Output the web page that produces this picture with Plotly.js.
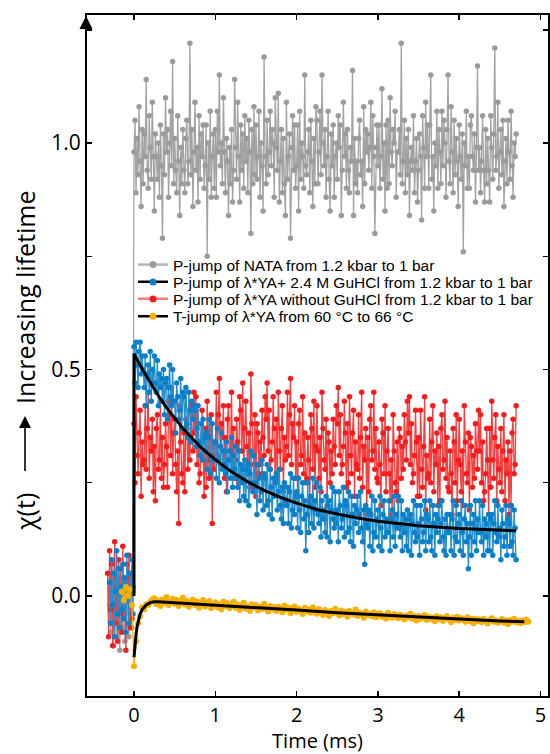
<!DOCTYPE html>
<html><head><meta charset="utf-8">
<script src="https://cdn.plot.ly/plotly-3.0.1.min.js"></script>
<style>html,body{margin:0;padding:0;background:#fff}#chart{width:550px;height:754px}</style>
</head><body><div id="chart"></div>
<script>
// sampling intervals of the recorded traces (ms)
const P_JUMP_DT = 0.0125;
const T_JUMP_DT = 0.025;

// ---- P-jump of NATA (gray) ----
const nataStart = -0.3;
const nataBefore = [-.02,-.08,.01,-.05,-.11,.03,-.04,-.09,.0,-.06,-.12,.02,-.03,-.07,.04,-.1,-.01,-.06,.02,-.09,-.04,.0,-.07,.01];
const nataAfter = [
.98,1.05,.89,1.01,.93,1.08,.96,.86,1.03,.91,
1.02,.97,1.14,.94,.9,1.06,.99,.92,1.09,.97,
.85,1.02,.97,.92,1.0,.88,1.04,.95,.79,1.02,
.93,1.1,.98,1.03,.88,1.0,1.07,.95,1.18,.91,
1.01,.94,.89,1.06,.96,.84,.99,.91,1.03,.94,
.89,1.01,1.05,.91,.96,1.22,.93,1.03,.86,.98,
1.09,.94,.99,.87,1.06,.92,1.02,.97,1.04,.9,
.95,1.04,.75,1.0,.92,1.07,.88,.97,1.02,.9,
1.03,.88,1.07,.98,1.15,.95,1.0,.91,1.1,.98,
.89,1.01,.96,.84,.99,.91,1.03,.87,.94,1.14,
.99,.92,1.09,.97,.87,1.04,.94,1.02,.9,1.06,
.96,1.01,.89,1.05,.98,.8,1.03,.91,1.08,.93,
1.04,.92,.97,1.07,.88,1.0,.95,.85,1.19,.97,
.91,1.05,.93,.98,1.07,.95,1.03,1.0,.88,1.1,
.99,.94,1.11,.87,.96,1.03,.89,1.01,.91,.84,
1.09,.92,.97,1.02,.79,.99,1.06,.94,1.04,.9,
.95,1.04,.85,1.07,.92,1.0,.97,.9,1.15,.95,
.93,.98,1.03,.89,1.05,.96,.86,1.01,.91,1.08,
1.05,.91,.98,1.07,.93,1.15,1.0,.95,1.03,.88,
.97,1.07,.92,.85,1.02,.95,1.04,.88,.97,1.0,
.92,1.06,.99,1.04,.84,.94,1.09,.97,1.02,.9,
1.03,.94,.89,.99,.96,1.16,.84,1.01,.91,.96,
.89,1.01,1.05,.93,.96,.86,1.08,.91,1.03,.98,
1.02,.94,.99,1.09,.9,1.06,.97,.8,.99,1.04,
.95,1.04,.9,.97,1.12,.92,1.0,.85,1.04,.9,
1.05,.91,1.1,.98,.95,1.03,1.0,1.07,.88,.98,
.98,1.03,.93,1.22,.91,.96,1.05,.89,1.01,.93,
1.03,.84,.96,.99,.94,1.06,.89,.96,1.01,.87,
.94,1.02,.97,.83,1.06,.99,.9,1.09,.97,1.04,
.9,1.04,1.15,.92,.97,.85,1.0,.95,1.07,.9,
1.03,.98,.91,1.07,.95,1.05,1.0,.88,1.03,1.15,
.96,.91,1.08,.98,.89,1.05,.93,1.01,.96,.86,
1.04,.97,.92,1.02,.76,1.0,.95,1.07,.9,.97,
.9,1.04,1.06,.97,.94,1.02,.87,.99,1.17,.94,
.99,.89,.96,1.06,.94,.87,1.03,.91,1.01,.94,
.87,1.06,.99,.92,1.02,1.21,.94,.97,1.09,.9,
.98,1.03,.93,1.05,.86,.96,1.01,.91,1.05,.98,
.92,1.07,.95,.88,1.0,.97,1.02];

// ---- P-jump of λ*YA + 2.4 M GuHCl (blue) ----
const guStart = -0.3;
const guBefore = [.03,-.06,.08,-.02,.05,-.09,.01,.1,-.04,.06,-.07,.02,-.03,.07,-.05,.04,-.08,.09,.0,-.06,.05,-.02,.08,-.04];
const guAfter = [
.55,.47,.56,.51,.46,.54,.56,.49,.53,.5,
.46,.53,.42,.49,.51,.45,.54,.43,.5,.47,
.53,.47,.45,.52,.42,.49,.46,.48,.43,.5,
.4,.47,.48,.39,.46,.51,.44,.42,.5,.43,
.43,.36,.47,.44,.39,.41,.48,.37,.45,.44,
.37,.46,.38,.35,.45,.41,.34,.43,.39,.42,
.41,.33,.37,.42,.34,.31,.38,.3,.39,.35,
.32,.36,.28,.35,.39,.27,.31,.38,.3,.34,
.34,.26,.37,.3,.25,.33,.36,.28,.32,.29,
.27,.34,.23,.3,.32,.26,.35,.24,.31,.28,
.33,.26,.24,.32,.21,.29,.25,.28,.22,.3,
.21,.28,.29,.2,.27,.32,.25,.23,.31,.24,
.25,.18,.29,.26,.21,.23,.3,.19,.27,.26,
.2,.29,.21,.18,.28,.24,.17,.26,.22,.25,
.27,.19,.23,.28,.2,.17,.24,.16,.25,.21,
.2,.24,.16,.23,.27,.15,.19,.26,.18,.22,
.23,.15,.26,.19,.14,.22,.25,.17,.21,.1,
.18,.25,.14,.2,.22,.16,.26,.15,.21,.19,
.25,.18,.16,.24,.13,.21,.17,.19,.14,.22,
.13,.2,.21,.12,.19,.24,.17,.15,.23,.16,
.19,.12,.23,.2,.15,.17,.24,.13,.21,.2,
.14,.23,.15,.12,.22,.18,.11,.2,.16,.19,
.22,.14,.18,.23,.15,.12,.19,.07,.2,.16,
.15,.19,.11,.18,.22,.1,.14,.21,.13,.17,
.19,.11,.22,.15,.1,.18,.21,.13,.17,.14,
.14,.21,.1,.17,.19,.13,.22,.11,.18,.15,
.22,.15,.13,.21,.1,.18,.14,.17,.11,.19,
.1,.17,.18,.09,.16,.21,.14,.12,.2,.13,
.16,.09,.2,.17,.12,.14,.21,.1,.18,.17,
.12,.21,.13,.1,.2,.16,.09,.18,.14,.17,
.2,.12,.16,.21,.13,.1,.17,.09,.18,.14,
.14,.18,.1,.17,.21,.09,.13,.2,.12,.16,
.18,.1,.21,.14,.09,.17,.2,.12,.16,.06,
.13,.2,.09,.16,.18,.12,.21,.1,.17,.14,
.21,.14,.12,.2,.09,.17,.13,.16,.1,.18,
.1,.17,.18,.09,.16,.21,.14,.12,.2,.13,
.15,.08,.19,.16,.11,.13,.2,.09,.17,.16,
.11,.2,.12,.09,.19,.15,.08];

// ---- P-jump of λ*YA without GuHCl (red) ----
const noGuStart = -0.325;
const noGuBefore = [.05,-.09,.1,-.03,.07,-.11,.02,.12,-.06,.04,-.1,.08,-.02,.06,-.08,.11,-.04,.03,-.12,.07,-.01,.09,-.07,.04,-.05,.02];
const noGuAfter = [
.38,.25,.44,.31,.27,.36,.41,.22,.34,.29,
.3,.42,.28,.37,.45,.26,.35,.32,.39,.23,
.33,.21,.37,.4,.28,.3,.43,.26,.35,.24,
.29,.38,.33,.24,.43,.4,.31,.46,.27,.36,
.39,.29,.23,.32,.16,.42,.34,.27,.25,.36,
.23,.39,.37,.28,.35,.3,.42,.36,.32,.45,
.36,.44,.29,.38,.25,.27,.31,.41,.34,.22,
.37,.24,.43,.3,.26,.35,.4,.16,.33,.28,
.33,.45,.31,.4,.48,.29,.38,.35,.42,.26,
.35,.23,.39,.42,.3,.32,.45,.28,.37,.26,
.3,.39,.34,.25,.44,.41,.32,.47,.28,.37,
.43,.33,.27,.36,.24,.49,.38,.31,.29,.4,
.22,.38,.36,.27,.34,.29,.41,.35,.31,.44,
.39,.47,.32,.41,.28,.3,.34,.44,.37,.25,
.39,.26,.45,.32,.28,.37,.42,.23,.35,.3,
.33,.45,.31,.4,.48,.29,.38,.35,.42,.26,
.34,.22,.38,.41,.29,.31,.44,.27,.36,.25,
.26,.35,.3,.21,.4,.37,.28,.43,.24,.33,
.42,.32,.26,.35,.23,.45,.37,.3,.28,.39,
.2,.36,.34,.25,.32,.27,.39,.33,.29,.42,
.38,.46,.31,.4,.27,.29,.33,.43,.36,.24,
.38,.25,.44,.31,.27,.36,.41,.22,.34,.29,
.28,.4,.26,.35,.45,.24,.33,.3,.37,.18,
.35,.23,.39,.42,.3,.32,.45,.28,.37,.26,
.25,.34,.29,.2,.39,.36,.27,.42,.23,.32,
.37,.27,.21,.3,.18,.4,.32,.25,.23,.34,
.21,.37,.35,.26,.33,.28,.4,.34,.3,.43,
.36,.44,.29,.38,.25,.27,.31,.41,.34,.22,
.35,.22,.41,.28,.24,.33,.44,.19,.31,.26,
.27,.39,.25,.34,.42,.23,.32,.29,.36,.2,
.33,.21,.37,.4,.28,.3,.43,.26,.35,.24,
.23,.32,.27,.18,.37,.34,.25,.4,.21,.3,
.39,.29,.23,.32,.2,.42,.34,.27,.25,.36,
.19,.35,.33,.24,.31,.26,.38,.32,.28,.41,
.32,.4,.25,.34,.21,.23,.27,.37,.3,.18,
.37,.24,.43,.3,.26,.35,.4,.21,.33,.28,
.25,.37,.23,.32,.4,.21,.3,.27,.34,.18,
.32,.2,.36,.39,.27,.29,.42];

// ---- T-jump of λ*YA 60 -> 66 °C (orange) ----
const tjStart = -0.15;
const tjBefore = [.01,-.01,.02,.0,.015,-.02];
const tjAfter = [
-.155,-.1,-.06,-.045,-.025,-.03,-.018,-.02,-.012,-.008,
-.005,-.018,-.01,-.022,-.008,-.015,-.002,-.02,-.012,-.006,
-.017,-.009,-.022,-.013,-.004,-.019,-.011,-.024,-.014,-.008,
-.02,-.012,-.026,-.015,-.009,-.023,-.017,-.011,-.027,-.019,
-.014,-.025,-.018,-.03,-.012,-.022,-.016,-.027,-.02,-.013,
-.026,-.019,-.031,-.021,-.015,-.028,-.023,-.033,-.018,-.025,
-.02,-.032,-.024,-.029,-.017,-.027,-.034,-.022,-.03,-.025,
-.033,-.024,-.028,-.036,-.021,-.03,-.026,-.038,-.027,-.023,
-.035,-.028,-.032,-.04,-.026,-.034,-.03,-.037,-.025,-.033,
-.039,-.029,-.036,-.042,-.031,-.035,-.044,-.033,-.038,-.028,
-.036,-.043,-.032,-.04,-.035,-.046,-.033,-.038,-.041,-.03,
-.044,-.037,-.04,-.048,-.034,-.042,-.039,-.045,-.036,-.047,
-.041,-.038,-.046,-.043,-.05,-.037,-.044,-.048,-.04,-.045,
-.049,-.041,-.046,-.052,-.043,-.047,-.039,-.05,-.045,-.054,
-.044,-.05,-.047,-.042,-.053,-.046,-.051,-.048,-.056,-.045,
-.05,-.047,-.055,-.049,-.044,-.052,-.058,-.048,-.053,-.046,
-.054,-.049,-.052,-.057,-.047,-.055,-.05,-.06,-.051,-.056,
-.052,-.058,-.05,-.055,-.061,-.053,-.049,-.057,-.054,-.059,
-.056,-.051,-.059,-.054,-.062,-.053,-.057,-.05,-.058,-.055,
-.06,-.054,-.058,-.052,-.057];

// ---- fitted curves (black) ----
const guFitT = [0,0,0.1,0.2,0.3,0.4,0.5,0.6,0.7,0.8,0.9,1.0,1.2,1.4,1.6,1.8,2.0,2.25,2.5,2.75,3.0,3.5,4.0,4.5,4.7];
const guFitY = [0.0,0.535,0.501,0.470,0.442,0.416,0.392,0.370,0.351,0.332,0.316,0.301,0.274,0.252,0.233,0.218,0.205,0.191,0.181,0.172,0.165,0.155,0.149,0.145,0.144];
const tjFitT = [0,0.0125,0.025,0.0375,0.05,0.075,0.1,0.15,0.2,0.25,0.3,0.5,1.0,1.5,2.0,2.5,3.0,3.5,4.0,4.5,4.8];
const tjFitY = [-0.135,-0.105,-0.085,-0.068,-0.056,-0.04,-0.03,-0.02,-0.015,-0.013,-0.013,-0.015,-0.021,-0.026,-0.031,-0.037,-0.042,-0.047,-0.051,-0.055,-0.057];

const legendNames = [
  'P-jump of NATA from 1.2 kbar to 1 bar',
  'P-jump of \u03bb*YA+ 2.4 M GuHCl from 1.2 kbar to 1 bar',
  'P-jump of \u03bb*YA without GuHCl from 1.2 kbar to 1 bar',
  'T-jump of \u03bb*YA from 60 \u00b0C to 66 \u00b0C'
];

function times(start, n, dt){
  const t = [];
  for (let i = 0; i < n; i++) t.push(+(start + i*dt).toFixed(5));
  return t;
}
function series(start, before, after, dt){
  return {x: times(start, before.length, dt).concat(times(0, after.length, dt)), y: before.concat(after)};
}

const GRAY='#9b9b9b', BLUE='#0b80c8', RED='#f41c1c', ORANGE='#fbb000';
const nata = series(nataStart, nataBefore, nataAfter, P_JUMP_DT);
const gu = series(guStart, guBefore, guAfter, P_JUMP_DT);
const noGu = series(noGuStart, noGuBefore, noGuAfter, P_JUMP_DT);
const tj = series(tjStart, tjBefore, tjAfter, T_JUMP_DT);

function dataTrace(s, mc, lc, ms){
  return {type:'scatter', mode:'lines+markers', x:s.x, y:s.y, showlegend:false,
    line:{color:lc, width:1.3}, marker:{color:mc, size:ms, line:{width:0}}, hoverinfo:'skip'};
}
function legendTrace(name, lc, mc, leg){
  return {type:'scatter', mode:'lines+markers', x:[null], y:[null], name:name, legend:leg, showlegend:true,
    line:{color:lc, width:2.5}, marker:{color:mc, size:7, line:{width:0}}};
}

const traces = [
  dataTrace(nata, GRAY, '#a3a3a3', 5.5),
  dataTrace(noGu, RED, '#f4403f', 5.5),
  dataTrace(gu, BLUE, '#2590d0', 5.5),
  dataTrace(tj, ORANGE, ORANGE, 6),
  {type:'scatter', mode:'lines', x:guFitT, y:guFitY, showlegend:false, line:{color:'#000', width:3}},
  {type:'scatter', mode:'lines', x:tjFitT, y:tjFitY, showlegend:false, line:{color:'#000', width:3}},
  legendTrace(legendNames[0], '#b4b4b4', GRAY, 'legend'),
  legendTrace(legendNames[1], '#000', BLUE, 'legend2'),
  legendTrace(legendNames[2], '#f77b7b', RED, 'legend3'),
  legendTrace(legendNames[3], '#000', ORANGE, 'legend4')
];

const L = 87, R = 2, T = 15, B = 58;
const W = 550 - L - R, H = 754 - T - B;
const px = v => (v - L) / W;
const py = v => (754 - B - v) / H;

function leg(yc){
  return {x: px(133), y: py(yc), xanchor:'left', yanchor:'middle', bgcolor:'rgba(0,0,0,0)',
    borderwidth:0, font:{family:'Liberation Sans, Arial, sans-serif', size:15.5, color:'#000'},
    itemwidth:30, tracegroupgap:0};
}

const axisCommon = {showline:true, linewidth:2, linecolor:'#000', mirror:'ticks', ticks:'inside',
  ticklen:5, tickwidth:1.5, tickcolor:'#000', showgrid:false, zeroline:false,
  tickfont:{size:21, color:'#000'}};

const layout = {
  width:550, height:754,
  margin:{l:L, r:R, t:T, b:B},
  paper_bgcolor:'#fff', plot_bgcolor:'#fff',
  font:{family:'Open Sans, sans-serif', color:'#000'},
  showlegend:true,
  xaxis: Object.assign({}, axisCommon, {range:[-0.578,5.092], tick0:0, dtick:1,
    tickfont:{size:20, color:'#000'},
    title:{text:'Time (ms)', font:{size:20, color:'#000'}, standoff:12}}),
  yaxis: Object.assign({}, axisCommon, {range:[-0.2208,1.2826], tick0:0, dtick:0.5, tickformat:'.1f',
    minor:{tick0:0, dtick:0.25, ticks:'inside', ticklen:5, tickwidth:1.5, tickcolor:'#000', showgrid:false}}),
  legend: leg(265),
  legend2: leg(282.3),
  legend3: leg(299.3),
  legend4: leg(316.7),
  annotations:[
    {xref:'paper', yref:'paper', x:px(25), y:py(297), text:'Increasing lifetime', textangle:-90,
     showarrow:false, xanchor:'center', yanchor:'middle', font:{size:25, color:'#000'}},
    {xref:'paper', yref:'paper', x:px(25), y:py(512), text:'\u03c7(t)', textangle:-90,
     showarrow:false, xanchor:'center', yanchor:'middle', font:{size:25, color:'#000'}},
    {xref:'paper', yref:'paper', x:px(25), y:py(416), text:' ', showarrow:true, ax:0, ay:65,
     arrowhead:2, arrowwidth:1.6, arrowsize:1.5, arrowcolor:'#000', standoff:0},
    {xref:'paper', yref:'paper', x:px(86), y:py(16), text:' ', showarrow:true, ax:0, ay:18,
     arrowhead:2, arrowwidth:2, arrowsize:1.3, arrowcolor:'#000', standoff:0}
  ]
};

Plotly.newPlot('chart', traces, layout, {displayModeBar:false, staticPlot:true});
</script>
</body></html>
